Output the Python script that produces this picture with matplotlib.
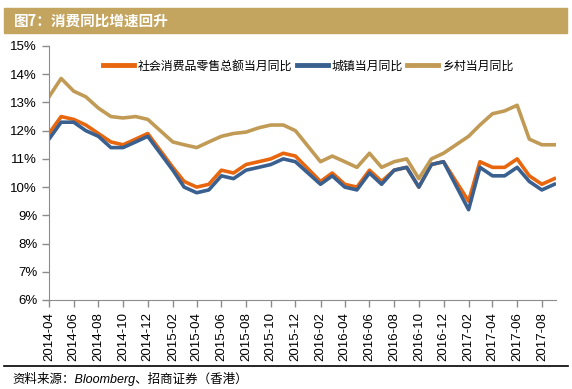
import pandas as pd
import matplotlib
matplotlib.use("Agg")
import matplotlib.pyplot as plt
import matplotlib.dates as mdates
from matplotlib.lines import Line2D

plt.rcParams['font.family'] = ['Liberation Sans', 'Noto Sans CJK SC', 'DejaVu Sans']

# mesi (gennaio assente: dato gen-feb cumulato)
mesi = ["2014-04", "2014-05", "2014-06", "2014-07", "2014-08", "2014-09", "2014-10", "2014-11", "2014-12",
        "2015-02", "2015-03", "2015-04", "2015-05", "2015-06", "2015-07", "2015-08", "2015-09", "2015-10",
        "2015-11", "2015-12",
        "2016-02", "2016-03", "2016-04", "2016-05", "2016-06", "2016-07", "2016-08", "2016-09", "2016-10",
        "2016-11", "2016-12",
        "2017-02", "2017-03", "2017-04", "2017-05", "2017-06", "2017-07", "2017-08", "2017-09"]

totale = [11.9, 12.5, 12.4, 12.2, 11.9, 11.6, 11.5, 11.7, 11.9,
          10.7, 10.2, 10.0, 10.1, 10.6, 10.5, 10.8, 10.9, 11.0, 11.2, 11.1,
          10.2, 10.5, 10.1, 10.0, 10.6, 10.2, 10.6, 10.7, 10.0, 10.8, 10.9,
          9.5, 10.9, 10.7, 10.7, 11.0, 10.4, 10.1, 10.3]

citta = [11.7, 12.3, 12.3, 12.0, 11.8, 11.4, 11.4, 11.6, 11.8,
         10.6, 10.0, 9.8, 9.9, 10.4, 10.3, 10.6, 10.7, 10.8, 11.0, 10.9,
         10.1, 10.4, 10.0, 9.9, 10.5, 10.1, 10.6, 10.7, 10.0, 10.8, 10.9,
         9.2, 10.7, 10.4, 10.4, 10.7, 10.2, 9.9, 10.1]

campagna = [13.2, 13.85, 13.4, 13.2, 12.8, 12.5, 12.45, 12.5, 12.4,
            11.6, 11.5, 11.4, 11.6, 11.8, 11.9, 11.95, 12.1, 12.2, 12.2, 12.0,
            10.9, 11.1, 10.9, 10.7, 11.2, 10.7, 10.9, 11.0, 10.3, 11.0, 11.2,
            11.8, 12.2, 12.6, 12.7, 12.9, 11.7, 11.5, 11.5]

nomi = ["社会消费品零售总额当月同比", "城镇当月同比", "乡村当月同比"]
colori = ["#E8660E", "#3A6090", "#C19B55"]

date = pd.to_datetime(mesi, format="%Y-%m")

fig = plt.figure(figsize=(5.72, 3.89), dpi=100)
ax = fig.add_axes([49 / 572, 1 - 300 / 389, (556 - 49) / 572, (300 - 46) / 389])

for serie, col in zip([totale, citta, campagna], colori):
    ax.plot(date, serie, color=col, lw=2.6, solid_joinstyle='round')

ax.set_ylim(6, 15)
ax.set_yticks(range(6, 16))
ax.set_yticklabels([f"{v}%" for v in range(6, 16)], fontsize=9.5)
ax.set_xlim(pd.Timestamp("2014-04-01"), pd.Timestamp("2017-09-05"))
ax.xaxis.set_major_locator(mdates.MonthLocator(bymonth=[2, 4, 6, 8, 10, 12]))
ax.xaxis.set_major_formatter(mdates.DateFormatter("%Y-%m"))
plt.setp(ax.get_xticklabels(), rotation=90, fontsize=9.5)

for s in ["top", "right"]:
    ax.spines[s].set_visible(False)
for s in ["left", "bottom"]:
    ax.spines[s].set_color("#8c8c8c")
ax.tick_params(axis="both", colors="#8c8c8c", labelcolor="black", length=5, width=1, direction="out")

# legenda
maniglie = [Line2D([0], [0], color=c, lw=3.5) for c in colori]
leg = fig.legend(maniglie, nomi, loc="center left", bbox_to_anchor=(92 / 572, 1 - 66 / 389),
                 ncol=3, frameon=False, handlelength=2.6, handletextpad=0.3, columnspacing=0.4,
                 prop={"family": ["Noto Sans CJK SC"], "size": 8.6})

# barra del titolo
fig.patches.append(plt.Rectangle((4 / 572, 1 - 33 / 389), (567 - 4) / 572, 25 / 389,
                                 transform=fig.transFigure, color="#C4A55F", zorder=0))
fig.text(14 / 572, 1 - 20.5 / 389, "图7：消费同比增速回升", color="white", fontsize=10.5,
         fontweight="bold", va="center", ha="left", family=["Noto Sans CJK SC"])

# linea e fonte in basso
fig.add_artist(Line2D([4 / 572, 568 / 572], [1 - 366 / 389, 1 - 366 / 389], color="black", lw=1.2,
                      transform=fig.transFigure))
fig.text(12 / 572, 1 - 379 / 389, "资料来源：Bloomberg、招商证券（香港）", fontsize=9, style="italic",
         va="center", ha="left", family=["Liberation Sans", "Noto Sans CJK SC"])

plt.savefig("out.png", dpi=100)
